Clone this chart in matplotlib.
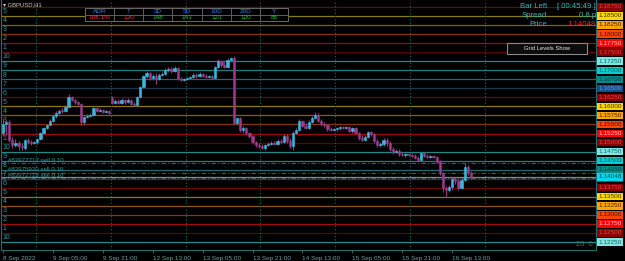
import matplotlib
matplotlib.use('Agg')
import matplotlib.pyplot as plt
from matplotlib.patches import Rectangle
import matplotlib.transforms as mtransforms

plt.rcParams['font.family'] = ['Liberation Sans', 'DejaVu Sans']

# ---- GBPUSD H1 candles ----
opens = [1.1526, 1.1551, 1.1557, 1.1507, 1.1493, 1.1499, 1.1490, 1.1485, 1.1507, 1.1501,
         1.1499, 1.1501, 1.1510, 1.1526, 1.1540, 1.1548, 1.1559, 1.1573, 1.1581, 1.1590,
         1.1587, 1.1598, 1.1626, 1.1617, 1.1612, 1.1606, 1.1557, 1.1570, 1.1573, 1.1576,
         1.1595, 1.1587, 1.1590, 1.1584, 1.1587, 1.1623, 1.1609, 1.1615, 1.1609, 1.1617,
         1.1612, 1.1617, 1.1606, 1.1604, 1.1626, 1.1653, 1.1684, 1.1692, 1.1678, 1.1684,
         1.1676, 1.1687, 1.1689, 1.1700, 1.1703, 1.1698, 1.1706, 1.1676, 1.1673, 1.1676,
         1.1678, 1.1681, 1.1687, 1.1684, 1.1689, 1.1684, 1.1681, 1.1684, 1.1678, 1.1709,
         1.1725, 1.1714, 1.1709, 1.1728, 1.1734, 1.1554, 1.1568, 1.1534, 1.1540, 1.1526,
         1.1518, 1.1501, 1.1493, 1.1490, 1.1485, 1.1493, 1.1496, 1.1499, 1.1496, 1.1504,
         1.1501, 1.1518, 1.1504, 1.1490, 1.1526, 1.1534, 1.1559, 1.1546, 1.1540, 1.1557,
         1.1568, 1.1576, 1.1559, 1.1551, 1.1548, 1.1537, 1.1534, 1.1537, 1.1540, 1.1543,
         1.1540, 1.1543, 1.1532, 1.1540, 1.1526, 1.1512, 1.1507, 1.1515, 1.1529, 1.1523,
         1.1504, 1.1493, 1.1496, 1.1507, 1.1499, 1.1482, 1.1474, 1.1476, 1.1468, 1.1465,
         1.1468, 1.1465, 1.1463, 1.1457, 1.1451, 1.1471, 1.1463, 1.1460, 1.1463, 1.1460,
         1.1446, 1.1416, 1.1374, 1.1368, 1.1377, 1.1399, 1.1393, 1.1374, 1.1396, 1.1432,
         1.1416]
highs = [1.1568, 1.1562, 1.1562, 1.1515, 1.1510, 1.1504, 1.1499, 1.1510, 1.1512, 1.1507,
         1.1504, 1.1512, 1.1529, 1.1543, 1.1551, 1.1565, 1.1579, 1.1587, 1.1593, 1.1595,
         1.1604, 1.1634, 1.1628, 1.1620, 1.1615, 1.1609, 1.1573, 1.1579, 1.1581, 1.1598,
         1.1598, 1.1595, 1.1593, 1.1590, 1.1590, 1.1628, 1.1620, 1.1620, 1.1623, 1.1620,
         1.1623, 1.1620, 1.1612, 1.1628, 1.1656, 1.1687, 1.1698, 1.1695, 1.1689, 1.1692,
         1.1692, 1.1695, 1.1706, 1.1709, 1.1709, 1.1711, 1.1709, 1.1681, 1.1678, 1.1681,
         1.1684, 1.1692, 1.1692, 1.1695, 1.1692, 1.1689, 1.1687, 1.1687, 1.1711, 1.1731,
         1.1728, 1.1723, 1.1734, 1.1736, 1.1739, 1.1570, 1.1570, 1.1546, 1.1543, 1.1529,
         1.1521, 1.1504, 1.1499, 1.1496, 1.1496, 1.1501, 1.1504, 1.1504, 1.1510, 1.1510,
         1.1523, 1.1523, 1.1512, 1.1532, 1.1540, 1.1565, 1.1562, 1.1554, 1.1562, 1.1573,
         1.1584, 1.1581, 1.1565, 1.1557, 1.1551, 1.1543, 1.1540, 1.1543, 1.1546, 1.1546,
         1.1546, 1.1546, 1.1543, 1.1543, 1.1529, 1.1521, 1.1521, 1.1532, 1.1532, 1.1526,
         1.1510, 1.1501, 1.1512, 1.1512, 1.1504, 1.1487, 1.1482, 1.1482, 1.1474, 1.1471,
         1.1471, 1.1471, 1.1468, 1.1463, 1.1474, 1.1474, 1.1468, 1.1465, 1.1465, 1.1463,
         1.1451, 1.1418, 1.1380, 1.1382, 1.1405, 1.1405, 1.1399, 1.1402, 1.1443, 1.1438,
         1.1421]
lows = [1.1518, 1.1521, 1.1501, 1.1485, 1.1487, 1.1479, 1.1479, 1.1479, 1.1496, 1.1493,
        1.1496, 1.1496, 1.1507, 1.1523, 1.1537, 1.1546, 1.1557, 1.1568, 1.1579, 1.1581,
        1.1584, 1.1595, 1.1615, 1.1606, 1.1604, 1.1548, 1.1548, 1.1568, 1.1570, 1.1573,
        1.1584, 1.1584, 1.1581, 1.1581, 1.1579, 1.1606, 1.1606, 1.1606, 1.1606, 1.1606,
        1.1609, 1.1604, 1.1601, 1.1601, 1.1623, 1.1651, 1.1678, 1.1673, 1.1673, 1.1662,
        1.1673, 1.1684, 1.1687, 1.1695, 1.1692, 1.1695, 1.1673, 1.1670, 1.1670, 1.1673,
        1.1676, 1.1678, 1.1678, 1.1681, 1.1681, 1.1678, 1.1678, 1.1676, 1.1676, 1.1706,
        1.1709, 1.1706, 1.1706, 1.1725, 1.1551, 1.1548, 1.1529, 1.1526, 1.1521, 1.1512,
        1.1496, 1.1487, 1.1485, 1.1482, 1.1479, 1.1490, 1.1493, 1.1493, 1.1493, 1.1499,
        1.1499, 1.1499, 1.1485, 1.1479, 1.1523, 1.1532, 1.1543, 1.1537, 1.1537, 1.1554,
        1.1565, 1.1557, 1.1546, 1.1543, 1.1532, 1.1532, 1.1532, 1.1532, 1.1534, 1.1537,
        1.1537, 1.1529, 1.1526, 1.1523, 1.1507, 1.1504, 1.1504, 1.1512, 1.1518, 1.1499,
        1.1487, 1.1487, 1.1490, 1.1490, 1.1476, 1.1468, 1.1471, 1.1463, 1.1463, 1.1460,
        1.1463, 1.1460, 1.1454, 1.1449, 1.1449, 1.1460, 1.1457, 1.1457, 1.1457, 1.1443,
        1.1410, 1.1363, 1.1349, 1.1363, 1.1368, 1.1385, 1.1368, 1.1371, 1.1393, 1.1410,
        1.1399]
closes = [1.1551, 1.1557, 1.1507, 1.1493, 1.1499, 1.1490, 1.1487, 1.1507, 1.1501, 1.1499,
          1.1501, 1.1510, 1.1526, 1.1540, 1.1548, 1.1559, 1.1573, 1.1581, 1.1587, 1.1587,
          1.1598, 1.1626, 1.1617, 1.1612, 1.1606, 1.1557, 1.1570, 1.1573, 1.1576, 1.1595,
          1.1587, 1.1590, 1.1584, 1.1587, 1.1581, 1.1609, 1.1615, 1.1609, 1.1617, 1.1612,
          1.1617, 1.1606, 1.1604, 1.1626, 1.1653, 1.1684, 1.1692, 1.1678, 1.1684, 1.1676,
          1.1687, 1.1689, 1.1700, 1.1703, 1.1698, 1.1706, 1.1676, 1.1673, 1.1676, 1.1678,
          1.1681, 1.1687, 1.1684, 1.1689, 1.1684, 1.1681, 1.1684, 1.1678, 1.1709, 1.1725,
          1.1714, 1.1709, 1.1728, 1.1734, 1.1554, 1.1568, 1.1534, 1.1540, 1.1526, 1.1518,
          1.1501, 1.1493, 1.1490, 1.1485, 1.1493, 1.1496, 1.1499, 1.1496, 1.1504, 1.1501,
          1.1518, 1.1504, 1.1490, 1.1526, 1.1534, 1.1559, 1.1546, 1.1540, 1.1557, 1.1568,
          1.1576, 1.1559, 1.1551, 1.1548, 1.1537, 1.1534, 1.1537, 1.1540, 1.1543, 1.1540,
          1.1543, 1.1532, 1.1540, 1.1526, 1.1512, 1.1507, 1.1515, 1.1529, 1.1523, 1.1504,
          1.1493, 1.1496, 1.1507, 1.1499, 1.1482, 1.1474, 1.1476, 1.1468, 1.1465, 1.1468,
          1.1465, 1.1463, 1.1457, 1.1451, 1.1471, 1.1463, 1.1460, 1.1463, 1.1460, 1.1446,
          1.1416, 1.1374, 1.1368, 1.1377, 1.1399, 1.1393, 1.1374, 1.1396, 1.1432, 1.1416,
          1.14048]

tick_bars = [0, 16, 32, 48, 64, 80, 96, 112, 128, 144]
tick_labels = ['8 Sep 2022', '9 Sep 05:00', '9 Sep 21:00', '12 Sep 13:00', '13 Sep 05:00',
               '13 Sep 21:00', '14 Sep 13:00', '15 Sep 05:00', '15 Sep 21:00', '16 Sep 13:00']
day_separators = [10.5, 34.5, 58.5, 82.5, 106.5, 130.5, 154.5]

grid_levels = [1.18750, 1.18500, 1.18250, 1.18000, 1.17750, 1.17500, 1.17250, 1.17000, 1.16750,
               1.16500, 1.16250, 1.16000, 1.15750, 1.15500, 1.15250, 1.15000, 1.14750, 1.14500,
               1.14250, 1.14000, 1.13750, 1.13500, 1.13250, 1.13000, 1.12750, 1.12500, 1.12250]
grid_numbers = [6, 5, 4, 3, 2, 1, 10, 9, 8, 7, 6, 5, 4, 3, 2, 1, 10, 9, 8, 7, 6, 5, 4, 3, 2, 1, 10]

order_ids = ['#83977717', '#83975920', '#83972718']
order_prices = [1.1443, 1.1417, 1.1401]
order_lots = [0.10, 0.10, 0.10]
bid = 1.14048

adr_heads = ['ADR', 'T', '3D', '5D', '10D', '20D', 'Y']
adr_values = ['108.1%', '130', '148', '141', '123', '120', '88']
adr_hot = [True, True, False, False, False, False, False]

# colours per grid number: (line, box, box text)
level_style = {
    6: ('#6a0808', '#8b0000', '#e04848'),
    5: ('#8c7a10', '#ffd700', '#3a3000'),
    4: ('#8c5a10', '#ffa500', '#402000'),
    3: ('#8a3410', '#ff4500', '#401000'),
    2: ('#a00a0a', '#ff0000', '#ffd0d0'),
    1: ('#5a0606', '#8b0000', '#e04848'),
    10: ('#1f8a8a', '#7fe6e0', '#106a6a'),
    9: ('#1a8080', '#00ced1', '#0a5a60'),
    8: ('#1a6e6e', '#008b8b', '#0a3a3a'),
    7: ('#183a50', '#104e8b', '#6a9ad0'),
}

W, H = 625, 261
fig = plt.figure(figsize=(W / 100, H / 100), dpi=100, facecolor='black')
ax = fig.add_axes([1 / W, 11 / H, 595 / W, 250 / H], facecolor='black')
ax.set_xlim(-0.64, 190.08)
ax.set_ylim(1.1203, 1.1894)

trans = mtransforms.blended_transform_factory(ax.transAxes, ax.transData)

# grid levels (the top number sits under the symbol title, so it is not drawn)
for k, (lvl, num) in enumerate(zip(grid_levels, grid_numbers)):
    lc, bc, tc = level_style[num]
    ax.axhline(lvl, color=lc, lw=0.9, zorder=1)
    if k > 0:
        ax.text(0.003, lvl + 0.0002, str(num), transform=trans, color='#2a9a9a',
                fontsize=5, va='bottom', ha='left', zorder=2)
    ax.text(1.004, lvl, '%.5f' % lvl, transform=trans, color=tc, fontsize=4.6,
            va='center', ha='left', clip_on=False, zorder=5,
            bbox=dict(boxstyle='square,pad=0.18', fc=bc, ec=bc, lw=0))

for s in day_separators:
    ax.axvline(s, color='#1f6868', lw=0.8, ls=(0, (1, 2)), zorder=1)

# orders and bid
for oid, op, lot in zip(order_ids, order_prices, order_lots):
    ax.axhline(op, color='#4a545a', lw=0.8, ls=(0, (4, 2, 1, 2)), zorder=2)
    ax.text(0.012, op + 0.00015, '%s sell %.2f' % (oid, lot), transform=trans,
            color='#2a9a9a', fontsize=4.4, va='bottom', ha='left', zorder=3)
ax.axhline(bid, color='#7a8890', lw=0.9, zorder=2)
ax.text(1.004, bid, '%.5f' % bid, transform=trans, color='#004a55', fontsize=4.6,
        va='center', ha='left', clip_on=False, zorder=6,
        bbox=dict(boxstyle='square,pad=0.18', fc='#00d8ec', ec='#00d8ec', lw=0))

# candles
idx = list(range(len(closes)))
ax.vlines(idx, lows, highs, color='#8e3b85', lw=0.8, zorder=3)
bull = [c >= o for o, c in zip(opens, closes)]
bottoms = [min(o, c) for o, c in zip(opens, closes)]
heights = [max(abs(c - o), 0.00006) for o, c in zip(opens, closes)]
body_colors = ['#46aee0' if b else '#a3388c' for b in bull]
edge_colors = ['#29c6d8' if b else '#8e3b85' for b in bull]
ax.bar(idx, heights, bottom=bottoms, width=0.72, color=body_colors,
       edgecolor=edge_colors, linewidth=0.4, zorder=4)

ax.set_yticks([])
ax.set_xticks(tick_bars)
ax.set_xticklabels(tick_labels, ha='left', fontsize=4.6, color='#6a9c9c')
ax.tick_params(axis='x', length=2.5, width=0.6, color='#2a7a7a', pad=1.5)
for side in ['left', 'bottom', 'right']:
    ax.spines[side].set_color('#1f6e6e')
    ax.spines[side].set_linewidth(0.8)
ax.spines['top'].set_visible(False)

# overlay in pixel coords for panels and info text
ov = fig.add_axes([0, 0, 1, 1], facecolor='none')
ov.set_xlim(0, W)
ov.set_ylim(H, 0)
ov.axis('off')

ov.text(3, 4.5, '\u25be GBPUSD,H1', color='#c8c8c8', fontsize=4.2, va='center', ha='left')

# ADR table
tx0, tx1, ty0, ty1, tmid = 85, 288, 8, 21, 14.5
cols = [85, 114, 143, 172, 202, 231, 260, 288]
ov.add_patch(Rectangle((tx0, ty0), tx1 - tx0, ty1 - ty0, fc='black', ec='#6a6a6a', lw=0.7))
ov.plot([tx0, tx1], [tmid, tmid], color='#6a6a6a', lw=0.6)
for c in cols[1:-1]:
    ov.plot([c, c], [ty0, ty1], color='#6a6a6a', lw=0.6)
for k, (hd, val, hot) in enumerate(zip(adr_heads, adr_values, adr_hot)):
    cx = (cols[k] + cols[k + 1]) / 2
    ov.text(cx, 11.4, hd, color='#2a7df0', fontsize=4.6, ha='center', va='center')
    ov.text(cx, 17.8, val, color='#ff2a2a' if hot else '#22c422', fontsize=4.6,
            ha='center', va='center')

info_c = '#3ab4b4'
ov.text(547, 7, 'Bar Left', color=info_c, fontsize=5.6, ha='right', va='center')
ov.text(596, 7, '[ 00:45:49 ]', color=info_c, fontsize=5.6, ha='right', va='center')
ov.text(547, 15.5, 'Spread', color=info_c, fontsize=5.6, ha='right', va='center')
ov.text(596, 15.5, '0.8 p', color=info_c, fontsize=5.6, ha='right', va='center')
ov.text(547, 24, 'Price', color=info_c, fontsize=5.6, ha='right', va='center')
ov.text(596, 24, '1.14048', color='#ff2020', fontsize=5.6, ha='right', va='center')

ov.add_patch(Rectangle((507, 43), 80, 11, fc='#0c0c0c', ec='#8a8a8a', lw=0.8))
ov.text(547, 48.7, 'Grid Levels Show', color='#e6e6e6', fontsize=4.2, ha='center', va='center')

ov.text(593, 244, '26  0', color='#4e6a70', fontsize=5.4, ha='right', va='center')

plt.savefig('out.png', dpi=100, facecolor='black')
